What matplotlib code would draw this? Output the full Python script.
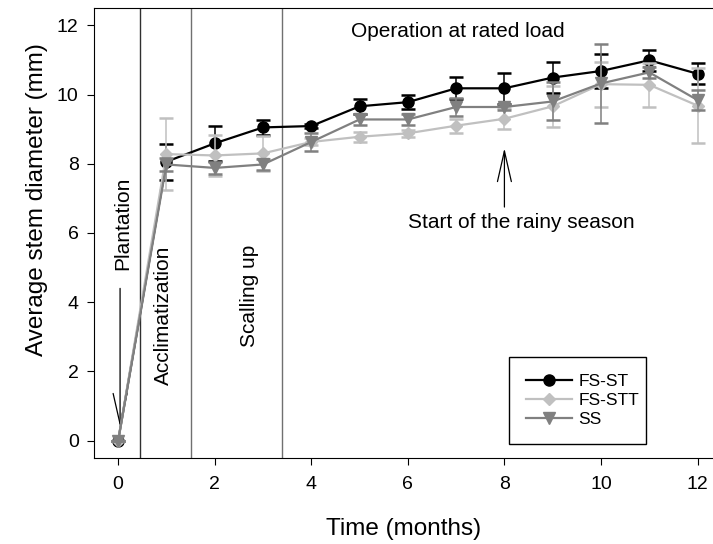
import numpy as np
import matplotlib
matplotlib.use("Agg")
import matplotlib.pyplot as plt
from matplotlib.lines import Line2D

plt.rcParams['font.family'] = ['Liberation Sans', 'DejaVu Sans']

# Daten
months = [0, 1, 2, 3, 4, 5, 6, 7, 8, 9, 10, 11, 12]
fs_st = [0, 8.06, 8.59, 9.05, 9.09, 9.66, 9.78, 10.18, 10.18, 10.49, 10.68, 10.99, 10.6]
fs_st_err = [0, 0.52, 0.5, 0.22, 0.06, 0.22, 0.2, 0.32, 0.44, 0.46, 0.5, 0.31, 0.3]
fs_stt = [0, 8.28, 8.24, 8.3, 8.63, 8.78, 8.88, 9.1, 9.3, 9.66, 10.3, 10.28, 9.68]
fs_stt_err = [0, 1.05, 0.6, 0.5, 0.1, 0.15, 0.1, 0.2, 0.3, 0.6, 0.65, 0.63, 1.08]
ss = [0, 7.98, 7.88, 7.98, 8.63, 9.28, 9.28, 9.64, 9.64, 9.8, 10.32, 10.64, 9.84]
ss_err = [0, 0.2, 0.18, 0.15, 0.25, 0.15, 0.15, 0.25, 0.1, 0.55, 1.15, 0.15, 0.3]

labels = ["FS-ST", "FS-STT", "SS"]
colors = ['black', '#c0c0c0', '#808080']
markers = ['o', 'D', 'v']
msizes = [8, 6.5, 8.5]
phase_lines = [0.45, 1.5, 3.4]

fig = plt.figure(figsize=(7.13, 5.44), dpi=100)
ax = fig.add_axes([94/713, 86/544, 1 - 94/713, (458 - 8)/544])

# Phasengrenzen
for i, xl in enumerate(phase_lines):
    ax.axvline(xl, color='#303030' if i == 0 else '#707070', linewidth=1, zorder=1)

# Kurven mit Fehlerbalken
series = [fs_st, fs_stt, ss]
errors = [fs_st_err, fs_stt_err, ss_err]
for k in range(3):
    ax.errorbar(months, series[k], yerr=errors[k], color=colors[k], marker=markers[k],
                markersize=msizes[k], linewidth=1.6, capsize=5, capthick=1.8,
                elinewidth=1.1, zorder=3 + k)

# Beschriftungen
arrow = dict(arrowstyle='->,head_length=2.2,head_width=0.5', color='black', lw=0.9,
             shrinkA=0, shrinkB=0)
ax.text(7.04, 11.83, "Operation at rated load", ha='center', va='center', fontsize=15)
ax.text(8.36, 6.29, "Start of the rainy season", ha='center', va='center', fontsize=15)
ax.annotate("", xy=(8.0, 8.45), xytext=(8.0, 6.75), arrowprops=arrow)
ax.text(0.1, 6.29, "Plantation", rotation=90, ha='center', va='center', fontsize=15)
ax.annotate("", xy=(0.04, 0.4), xytext=(0.04, 4.4), arrowprops=arrow)
ax.text(0.93, 3.63, "Acclimatization", rotation=90, ha='center', va='center', fontsize=15)
ax.text(2.73, 4.18, "Scalling up", rotation=90, ha='center', va='center', fontsize=15)

# Achsen formatieren
ax.set_xlim(-0.5, 12.32)
ax.set_ylim(-0.5, 12.5)
ax.set_xticks(np.arange(0, 13, 2))
ax.set_yticks(np.arange(0, 13, 2))
ax.tick_params(direction='out', length=5, labelsize=14)
ax.tick_params(axis='x', pad=8)
ax.tick_params(axis='y', pad=6)
ax.spines['right'].set_visible(False)
ax.set_xlabel("Time (months)", fontsize=17.5, labelpad=18)
ax.set_ylabel("Average stem diameter (mm)", fontsize=17.5)
ax.yaxis.set_label_coords(-0.074, 0.575)

# Legende ohne Fehlerbalken
handles = [Line2D([], [], color=colors[k], marker=markers[k], markersize=msizes[k], linewidth=1.6)
           for k in range(3)]
leg = ax.legend(handles, labels, loc='lower left',
                bbox_to_anchor=((509 - 94)/619, (458 - 444)/450, 137/619, 87/450),
                bbox_transform=ax.transAxes, mode='expand', borderaxespad=0,
                fancybox=False, edgecolor='black', fontsize=12.5, handlelength=2.6,
                handletextpad=0.4, labelspacing=0.2, borderpad=1.0, framealpha=1)
leg.get_frame().set_linewidth(1)

fig.savefig("out.png", dpi=100)
